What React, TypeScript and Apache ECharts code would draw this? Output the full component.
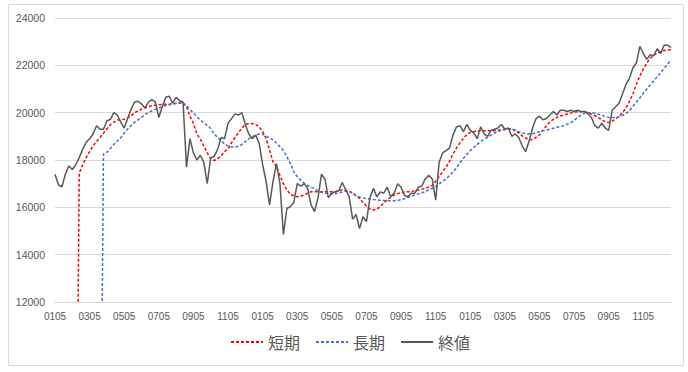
import React, { useEffect, useRef } from "react";
import * as echarts from "echarts";

// x-axis tick labels, one every 10 data points (each point ≈ 4 trading days)
const tickLabels = [
  "0105", "0305", "0505", "0705", "0905", "1105",
  "0105", "0305", "0505", "0705", "0905", "1105",
  "0105", "0305", "0505", "0705", "0905", "1105",
];

// 終値 (close)
const closeValues = [
  17400, 16950, 16870, 17400, 17750, 17600, 17800, 18100, 18450, 18750,
  18900, 19100, 19450, 19300, 19300, 19650, 19720, 20000, 19900, 19600,
  19350, 19750, 20150, 20450, 20480, 20370, 20200, 20450, 20550, 20450,
  19800, 20250, 20650, 20700, 20400, 20650, 20500, 20450, 17700, 18900,
  18300, 18000, 18200, 17900, 17000, 18100, 18150, 18450, 18950, 18900,
  19550, 19750, 19950, 19900, 20000, 19500, 19100, 18900, 19050, 18700,
  17800, 17100, 16100, 17100, 17850, 17000, 14850, 15950, 16030, 16200,
  17000, 16900, 17000, 16800, 16100, 15820, 16400, 17400, 17200, 16400,
  16600, 16660, 16700, 17050, 16750, 16450, 15500, 15700, 15100, 15600,
  15400, 16400, 16800, 16450, 16650, 16600, 16850, 16450, 16600, 17000,
  16850, 16500, 16450, 16600, 16600, 16850, 16900, 17200, 17350, 17200,
  16300, 17900, 18300, 18400, 18500, 19050, 19400, 19450, 19200, 19500,
  19250, 19150, 18900, 19400, 19100, 19000, 19250, 19300, 19350, 19500,
  19300, 19350, 19000, 19100, 18950, 18600, 18350, 18800, 19350, 19750,
  19850, 19700, 19750, 19900, 20050, 19900, 20100, 20100, 20050, 20100,
  20050, 20100, 20050, 20050, 19950, 19800, 19450, 19350, 19550, 19350,
  19250, 20100, 20250, 20400, 20800, 21200, 21450, 21900, 22100, 22800,
  22500, 22250, 22450, 22400, 22700, 22500, 22850, 22850, 22750,
];

// 短期 (short-term average); blank cells plotted as 0
const shortValues = [
  0, 0, 0, 0, 0, 0, 0, 17450, 17800, 18100,
  18350, 18600, 18780, 18950, 19130, 19320, 19490, 19600, 19690, 19700,
  19720, 19780, 19870, 19990, 20080, 20150, 20200, 20260, 20290, 20310,
  20330, 20350, 20360, 20360, 20380, 20400, 20410, 20420, 20250, 19850,
  19550, 19100, 18880, 18600, 18300, 18050, 17980, 18050, 18180, 18350,
  18480, 18720, 18950, 19150, 19350, 19500, 19550, 19530, 19500, 19400,
  19200, 18900, 18420, 17920, 17720, 17350, 17000, 16730, 16560, 16480,
  16450, 16480, 16520, 16600, 16660, 16660, 16660, 16660, 16660, 16660,
  16660, 16660, 16700, 16740, 16720, 16680, 16600, 16480, 16380, 16200,
  16050, 15930, 15890, 15920, 16030, 16190, 16320, 16420, 16520, 16580,
  16620, 16650, 16660, 16660, 16700, 16730, 16770, 16810, 16860, 16920,
  17100, 17300, 17500, 17700, 17950, 18250, 18500, 18720, 18910, 19080,
  19160, 19200, 19220, 19240, 19240, 19240, 19240, 19240, 19260, 19270,
  19290, 19310, 19320, 19230, 19150, 19020, 18930, 18870, 18860, 18960,
  19060, 19250, 19440, 19610, 19720, 19800, 19860, 19900, 19940, 19980,
  20020, 20040, 20040, 20040, 20000, 19940, 19870, 19790, 19700, 19620,
  19580, 19640, 19730, 19850, 20000, 20200, 20480, 20800, 21200, 21550,
  21850, 22100, 22300, 22420, 22520, 22580, 22630, 22650, 22660,
];

// 長期 (long-term average); blank cells plotted as 0
const longValues = [
  0, 0, 0, 0, 0, 0, 0, 0, 0, 0,
  0, 0, 0, 0, 18250, 18330, 18480, 18660, 18800, 18940,
  19130, 19310, 19460, 19600, 19700, 19800, 19920, 20000, 20080, 20140,
  20200, 20250, 20300, 20330, 20360, 20390, 20420, 20400, 20300, 20130,
  19980, 19830, 19690, 19580, 19460, 19330, 19100, 18950, 18820, 18680,
  18600, 18550, 18540, 18580, 18650, 18780, 18900, 18990, 19050, 19100,
  19090, 19020, 18930, 18850, 18720, 18560, 18400, 18140, 17860, 17500,
  17300, 17150, 17020, 16920, 16860, 16790, 16700, 16640, 16600, 16580,
  16560, 16580, 16610, 16650, 16690, 16660, 16610, 16500, 16440, 16400,
  16370, 16350, 16330, 16320, 16300, 16290, 16280, 16280, 16280, 16290,
  16320, 16360, 16420, 16470, 16520, 16570, 16610, 16660, 16740, 16800,
  16880, 16990, 17100, 17200, 17340, 17500, 17660, 17880, 18060, 18230,
  18400, 18530, 18660, 18780, 18880, 18960, 19050, 19140, 19200, 19260,
  19290, 19300, 19300, 19270, 19200, 19140, 19110, 19100, 19110, 19150,
  19190, 19230, 19270, 19300, 19340, 19380, 19410, 19450, 19510, 19570,
  19680, 19790, 19900, 19980, 20000, 20000, 19980, 19940, 19890, 19840,
  19800, 19800, 19800, 19830, 19880, 19960, 20090, 20270, 20440, 20620,
  20820, 21000, 21180, 21340, 21510, 21680, 21870, 22050, 22230,
];

const seriesNames = ["短期", "長期", "終値"];
const yTicks = { min: 12000, max: 24000, interval: 2000 };

export default function App() {
  const ref = useRef<HTMLDivElement>(null);

  useEffect(() => {
    if (!ref.current) return;
    const chart = echarts.init(ref.current, undefined, { renderer: "svg" });
    const categories = closeValues.map((_, i) => "p" + i);
    const labelFont = "'Liberation Sans', Arial, sans-serif";
    const cjkFont = "'Noto Sans CJK JP', 'Noto Sans', sans-serif";

    chart.setOption({
      animation: false,
      backgroundColor: "#ffffff",
      graphic: [
        {
          type: "rect",
          silent: true,
          shape: { x: 8.5, y: 4.5, width: 675, height: 361 },
          style: { fill: "none", stroke: "#d9d9d9", lineWidth: 1 },
        },
      ],
      grid: { left: 55, right: 17, top: 18, bottom: 70, containLabel: false },
      legend: {
        data: seriesNames,
        left: 230,
        top: 334,
        padding: 0,
        itemWidth: 32,
        itemHeight: 14,
        itemGap: 15,
        itemStyle: { opacity: 0 },
        textStyle: { color: "#595959", fontSize: 16, fontFamily: cjkFont },
      },
      xAxis: {
        type: "category",
        data: categories,
        boundaryGap: false,
        axisLine: { show: true, lineStyle: { color: "#d9d9d9", width: 1 } },
        axisTick: { show: false },
        splitLine: { show: false },
        axisLabel: {
          interval: 9,
          margin: 9,
          color: "#595959",
          fontSize: 10,
          fontFamily: labelFont,
          formatter: (_v: string, idx: number) => tickLabels[idx / 10] ?? "",
        },
      },
      yAxis: {
        type: "value",
        min: yTicks.min,
        max: yTicks.max,
        interval: yTicks.interval,
        axisLine: { show: false },
        axisTick: { show: false },
        axisLabel: {
          color: "#595959",
          fontSize: 10.5,
          margin: 10,
          fontFamily: labelFont,
          formatter: (v: number) => String(v),
        },
        splitLine: { lineStyle: { color: "#d9d9d9", width: 1 } },
      },
      series: [
        {
          name: seriesNames[0],
          type: "line",
          data: shortValues,
          symbol: "none",
          clip: true,
          lineStyle: { color: "#ff0000", width: 1.5, type: [3, 2] },
          itemStyle: { color: "#ff0000" },
        },
        {
          name: seriesNames[1],
          type: "line",
          data: longValues,
          symbol: "none",
          clip: true,
          lineStyle: { color: "#4472c4", width: 1.5, type: [3, 2] },
          itemStyle: { color: "#4472c4" },
        },
        {
          name: seriesNames[2],
          type: "line",
          data: closeValues,
          symbol: "none",
          clip: true,
          lineStyle: { color: "#595959", width: 1.5 },
          itemStyle: { color: "#595959" },
        },
      ],
    });
    return () => chart.dispose();
  }, []);

  return (
    <div
      ref={ref}
      style={{ position: "absolute", left: 0, top: 0, width: 688, height: 372, background: "#fff" }}
    />
  );
}
